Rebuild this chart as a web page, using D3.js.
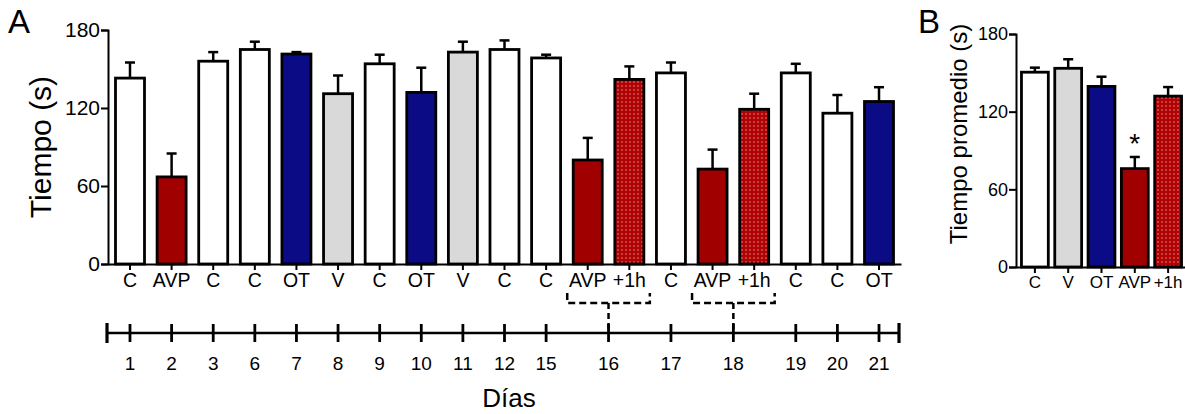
<!DOCTYPE html>
<html>
<head>
<meta charset="utf-8">
<script src="https://cdn.jsdelivr.net/npm/d3@7"></script>
<style>
  body { margin: 0; background: #fff; }
  svg text { font-family: "Liberation Sans", Arial, sans-serif; fill: #000; }
</style>
</head>
<body>
<svg id="chart" width="1185" height="414"></svg>
<script>
// Panel A: one bar per session
const labelsA = ['C', 'AVP', 'C', 'C', 'OT', 'V', 'C', 'OT', 'V', 'C', 'C', 'AVP', '+1h', 'C', 'AVP', '+1h', 'C', 'C', 'OT'];
const valuesA = [143, 67, 156, 165, 161.5, 131, 154, 132, 163, 165, 158.5, 80, 142, 147, 73, 119, 147, 116, 125];
const errorsA = [155, 85, 163, 171, 163, 145, 161, 151, 171, 172, 161, 97, 152, 155, 88, 131, 154, 130, 136];
const dayOfBar = [1, 2, 3, 6, 7, 8, 9, 10, 11, 12, 15, 16, 16, 17, 18, 18, 19, 20, 21];

// Panel B: mean per treatment
const labelsB = ['C', 'V', 'OT', 'AVP', '+1h'];
const valuesB = [150.5, 153.5, 139.5, 76, 132];
const errorsB = [154, 160.5, 147, 85, 139];

const yTicks = [0, 60, 120, 180];

const colorOf = {
  'C': '#ffffff',
  'V': '#d9d9d9',
  'OT': '#0b0b86',
  'AVP': '#a00000',
  '+1h': 'url(#dots)'
};

const svg = d3.select('#chart').attr('font-family', 'Liberation Sans');

// dotted red fill for the +1h bars
const pat = svg.append('defs').append('pattern')
  .attr('id', 'dots')
  .attr('patternUnits', 'userSpaceOnUse')
  .attr('width', 4)
  .attr('height', 4);
pat.append('rect').attr('width', 4).attr('height', 4).attr('fill', '#b00404');
pat.append('circle').attr('cx', 2).attr('cy', 2).attr('r', 0.7).attr('fill', '#f2a0a0');

function drawPanel(opts) {
  const x = d3.scaleBand()
    .domain(d3.range(opts.labels.length))
    .range(opts.xRange)
    .paddingInner(opts.padIn)
    .paddingOuter(opts.padOut);
  const y = d3.scaleLinear().domain([0, 180]).range(opts.yRange);
  const g = svg.append('g');
  const cx = i => x(i) + x.bandwidth() / 2;

  // error bars (behind bars)
  const eb = g.selectAll('.err').data(opts.values).enter().append('g');
  eb.append('line')
    .attr('x1', (d, i) => cx(i))
    .attr('x2', (d, i) => cx(i))
    .attr('y1', d => y(d))
    .attr('y2', (d, i) => y(opts.errors[i]))
    .attr('stroke', '#000').attr('stroke-width', 2.5);
  eb.append('line')
    .attr('x1', (d, i) => cx(i) - 5)
    .attr('x2', (d, i) => cx(i) + 5)
    .attr('y1', (d, i) => y(opts.errors[i]))
    .attr('y2', (d, i) => y(opts.errors[i]))
    .attr('stroke', '#000').attr('stroke-width', 2.5);

  g.selectAll('.bar').data(opts.values).enter().append('rect')
    .attr('x', (d, i) => x(i))
    .attr('width', x.bandwidth())
    .attr('y', d => y(d))
    .attr('height', d => y(0) - y(d))
    .attr('fill', (d, i) => colorOf[opts.labels[i]])
    .attr('stroke', '#000')
    .attr('stroke-width', 2.8);

  // y axis
  const ya = g.append('g')
    .attr('transform', `translate(${opts.xRange[0]},0)`)
    .call(d3.axisLeft(y).tickValues(yTicks).tickSize(7).tickPadding(1));
  ya.attr('font-family', null);
  ya.select('.domain').attr('stroke-width', 2);
  ya.selectAll('.tick line').attr('stroke-width', 2);
  ya.selectAll('.tick text').style('font-size', opts.tickFont + 'px').attr('fill', '#000');

  // x axis
  const xa = g.append('g')
    .attr('transform', `translate(0,${opts.yRange[0]})`)
    .call(d3.axisBottom(x).tickSize(6).tickSizeOuter(0).tickPadding(3).tickFormat(i => opts.labels[i]));
  xa.attr('font-family', null);
  xa.select('.domain').attr('stroke-width', 2);
  xa.selectAll('.tick line').attr('stroke-width', 2);
  xa.selectAll('.tick text').style('font-size', opts.labelFont + 'px').attr('fill', '#000');

  return { x, y, g, cx };
}

// ---- Panel A ----
const A = drawPanel({
  labels: labelsA, values: valuesA, errors: errorsA,
  xRange: [108, 901], yRange: [264, 30],
  padIn: 0.303, padOut: 0.18, tickFont: 21, labelFont: 19.5
});

svg.append('text').attr('x', 8).attr('y', 33)
  .style('font-size', '33px').text('A');
svg.append('text')
  .attr('transform', 'translate(51,147) rotate(-90)')
  .attr('text-anchor', 'middle')
  .style('font-size', '30px')
  .text('Tiempo (s)');

// timeline of days
const days = Array.from(new Set(dayOfBar));
const dayPos = days.map(dd => d3.mean(dayOfBar.map((v, i) => v === dd ? A.cx(i) : null).filter(v => v !== null)));
const tlY = 333;
const tl = svg.append('g');
tl.append('line').attr('x1', 107).attr('x2', 899).attr('y1', tlY).attr('y2', tlY)
  .attr('stroke', '#000').attr('stroke-width', 2.5);
tl.selectAll('.cap').data([107, 899]).enter().append('line')
  .attr('x1', d => d).attr('x2', d => d)
  .attr('y1', tlY - 10).attr('y2', tlY + 10)
  .attr('stroke', '#000').attr('stroke-width', 3.2);
tl.selectAll('.dtick').data(dayPos).enter().append('line')
  .attr('x1', d => d).attr('x2', d => d)
  .attr('y1', tlY - 9).attr('y2', tlY + 9)
  .attr('stroke', '#000').attr('stroke-width', 2.8);
tl.selectAll('.dlab').data(days).enter().append('text')
  .attr('x', (d, i) => dayPos[i])
  .attr('y', 370)
  .attr('text-anchor', 'middle')
  .style('font-size', '19px')
  .text(d => d);
svg.append('text').attr('x', 509).attr('y', 407)
  .attr('text-anchor', 'middle')
  .style('font-size', '26px')
  .text('Días');

// dashed brackets joining AVP and +1h on the same day
const pairs = days.filter(dd => dayOfBar.filter(v => v === dd).length > 1);
pairs.forEach(dd => {
  const idx = dayOfBar.map((v, i) => v === dd ? i : -1).filter(i => i >= 0);
  const x0 = A.x(idx[0]) - 6;
  const x1 = A.x(idx[idx.length - 1]) + A.x.bandwidth() + 6;
  const xm = dayPos[days.indexOf(dd)];
  const by = 303;
  tl.append('path')
    .attr('d', `M${x0},${by - 10}V${by}H${x1}V${by - 10}`)
    .attr('fill', 'none').attr('stroke', '#000').attr('stroke-width', 2.5)
    .attr('stroke-dasharray', '7,4');
  tl.append('line').attr('x1', xm).attr('x2', xm).attr('y1', by).attr('y2', tlY)
    .attr('stroke', '#000').attr('stroke-width', 2.5).attr('stroke-dasharray', '6,4');
});

// ---- Panel B ----
const B = drawPanel({
  labels: labelsB, values: valuesB, errors: errorsB,
  xRange: [1016, 1187], yRange: [267, 34],
  padIn: 0.194, padOut: 0.164, tickFont: 18, labelFont: 17
});
svg.append('text').attr('x', 918).attr('y', 33)
  .style('font-size', '33px').text('B');
svg.append('text')
  .attr('transform', 'translate(967,134) rotate(-90)')
  .attr('text-anchor', 'middle')
  .style('font-size', '24px')
  .text('Tiempo promedio (s)');
svg.append('text')
  .attr('x', B.cx(3))
  .attr('y', B.y(errorsB[3]) - 4)
  .attr('text-anchor', 'middle')
  .style('font-size', '28px')
  .text('*');
</script>
</body>
</html>
